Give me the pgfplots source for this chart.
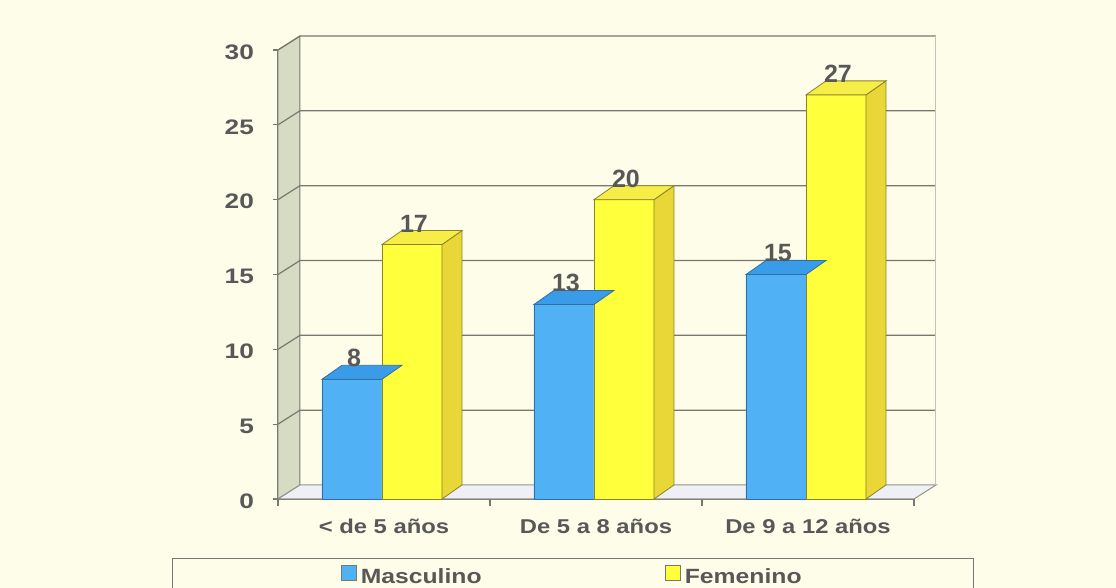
\documentclass[border=0pt]{standalone}
\usepackage{fontspec}
\setmainfont{Liberation Sans}
\usepackage{graphicx}
\usepackage{pgfplots}
\pgfplotsset{compat=1.18}

\definecolor{paper}{RGB}{254,253,234}
\definecolor{blueF}{RGB}{80,178,245}
\definecolor{blueT}{RGB}{58,156,232}
\definecolor{blueE}{RGB}{50,110,165}
\definecolor{yelF}{RGB}{255,255,60}
\definecolor{yelT}{RGB}{246,238,70}
\definecolor{yelS}{RGB}{232,215,55}
\definecolor{yelE}{RGB}{140,130,45}
\definecolor{wallL}{RGB}{214,220,196}
\definecolor{floorC}{RGB}{238,240,246}
\definecolor{gridC}{RGB}{120,120,112}
\definecolor{txt}{RGB}{88,88,88}

% horizontally widened text
\newcommand\wide[2][1.19]{\scalebox{#1}[1]{#2}}
% empty marker: the 3D faces are drawn by the scatter hook
\pgfdeclareplotmark{empty}{}
% pt per data unit on the value axis (224.5pt / 30)
\def\yu{7.48333}

\pgfplotsset{
  valuelabel/.style={forget plot, only marks, mark=empty,
    nodes near coords,
    every node near coord/.append style={anchor=south, inner sep=0pt,
      xshift=#1, yshift=6pt, text=txt, font=\fontsize{12.5}{14}\selectfont\bfseries}},
}

\begin{document}
\begin{tikzpicture}[x=1pt,y=1pt]
\fill[paper] (0,0) rectangle (558,294);
\begin{axis}[
  at={(139pt,44.5pt)}, anchor=south west,
  scale only axis, width=318pt, height=224.5pt,
  xmin=-0.5, xmax=2.5, ymin=0, ymax=30,
  clip=false,
  axis x line*=bottom, axis y line*=left,
  axis line style={-, draw=gridC, line width=0.7pt},
  /pgf/number format/assume math mode=true,
  xtick={0,1,2},
  xticklabels={\wide{< de 5 años},\wide{De 5 a 8 años},\wide{De 9 a 12 años}},
  xtick style={draw=none},
  xticklabel style={anchor=center, yshift=-11pt, font=\fontsize{10}{12}\selectfont\bfseries, text=txt},
  ytick={0,5,...,30},
  yticklabel={\wide[1.25]{\pgfmathprintnumber{\tick}}},
  tick align=outside, major tick length=2.5pt,
  ytick style={draw=gridC, line width=0.6pt},
  yticklabel style={xshift=-6pt, yshift=-1pt, font=\fontsize{10.5}{12}\selectfont\bfseries, text=txt},
  legend columns=2,
  legend style={at={(-0.16667,-0.1314)}, anchor=north west,
    draw=gridC, line width=0.6pt, fill=paper,
    font=\fontsize{10.3}{12}\selectfont\bfseries, text=txt,
    inner xsep=84pt, inner ysep=3pt,
    /tikz/every even column/.append style={column sep=89.5pt}},
]
% left wall and floor
\filldraw[fill=wallL, draw=gridC, line width=0.5pt]
  (axis cs:-0.5,0) -- (axis cs:-0.5,30) -- ++(11pt,7pt)
  -- ([shift={(11pt,7pt)}]axis cs:-0.5,0) -- cycle;
\filldraw[fill=floorC, draw=gridC!80, line width=0.5pt]
  (axis cs:-0.5,0) -- (axis cs:2.5,0) -- ++(11pt,7pt)
  -- ([shift={(11pt,7pt)}]axis cs:-0.5,0) -- cycle;
% grid on the side and back walls
\pgfplotsinvokeforeach{5,10,...,30}{
  \draw[gridC, line width=0.6pt] (axis cs:-0.5,#1) -- ++(11pt,7pt)
    -- ([shift={(11pt,7pt)}]axis cs:2.5,#1);
}
\draw[gridC!45, line width=0.5pt] ([shift={(11pt,7pt)}]axis cs:2.5,0)
  -- ([shift={(11pt,7pt)}]axis cs:2.5,30);
% category separators
\pgfplotsinvokeforeach{-0.5,0.5,1.5,2.5}{
  \draw[gridC, line width=0.6pt] (axis cs:#1,0) -- ++(0pt,-3.5pt);
}

% Masculino
\addplot[ybar, bar width=0.28302, bar shift=-0.15094,
  fill=blueF, draw=blueE, line width=0.4pt,
  legend image code/.code={\draw[fill=blueF, draw=gridC, line width=0.6pt] (0pt,-1.25pt) rectangle (7.5pt,6.25pt);}]
  coordinates {(0,8) (1,13) (2,15)};
\addlegendentry{\wide[1.2]{Masculino}}
\addplot[forget plot, scatter, only marks, mark=empty, point meta=y,
  scatter/@pre marker code/.code={%
    \filldraw[fill=blueT, draw=blueE, line width=0.4pt]
      (-31pt,0pt) -- (-1pt,0pt) -- (9pt,7pt) -- (-21pt,7pt) -- cycle;
  },
  scatter/@post marker code/.code={}]
  coordinates {(0,8) (1,13) (2,15)};
\addplot[valuelabel=-15pt] coordinates {(0,8) (1,13) (2,15)};

% Femenino
\addplot[ybar, bar width=0.28302, bar shift=0.13208,
  fill=yelF, draw=yelE, line width=0.4pt,
  legend image code/.code={\draw[fill=yelF, draw=gridC, line width=0.6pt] (0pt,-1.25pt) rectangle (7.5pt,6.25pt);}]
  coordinates {(0,17) (1,20) (2,27)};
\addlegendentry{\wide[1.2]{Femenino}}
\addplot[forget plot, scatter, only marks, mark=empty, point meta=y,
  visualization depends on={rawy \as \vy},
  scatter/@pre marker code/.code={%
    \pgfmathsetmacro\hh{\vy*\yu}%
    \filldraw[fill=yelS, draw=yelE, line width=0.4pt]
      (29pt,0pt) -- (39pt,7pt) -- ({39pt},{(7-\hh)*1pt}) -- ({29pt},{-\hh*1pt}) -- cycle;
    \filldraw[fill=yelT, draw=yelE, line width=0.4pt]
      (-1pt,0pt) -- (29pt,0pt) -- (39pt,7pt) -- (9pt,7pt) -- cycle;
  },
  scatter/@post marker code/.code={}]
  coordinates {(0,17) (1,20) (2,27)};
\addplot[valuelabel=15pt] coordinates {(0,17) (1,20) (2,27)};
\end{axis}
\pgfresetboundingbox
\useasboundingbox (0,0) rectangle (558,294);
\end{tikzpicture}
\end{document}
